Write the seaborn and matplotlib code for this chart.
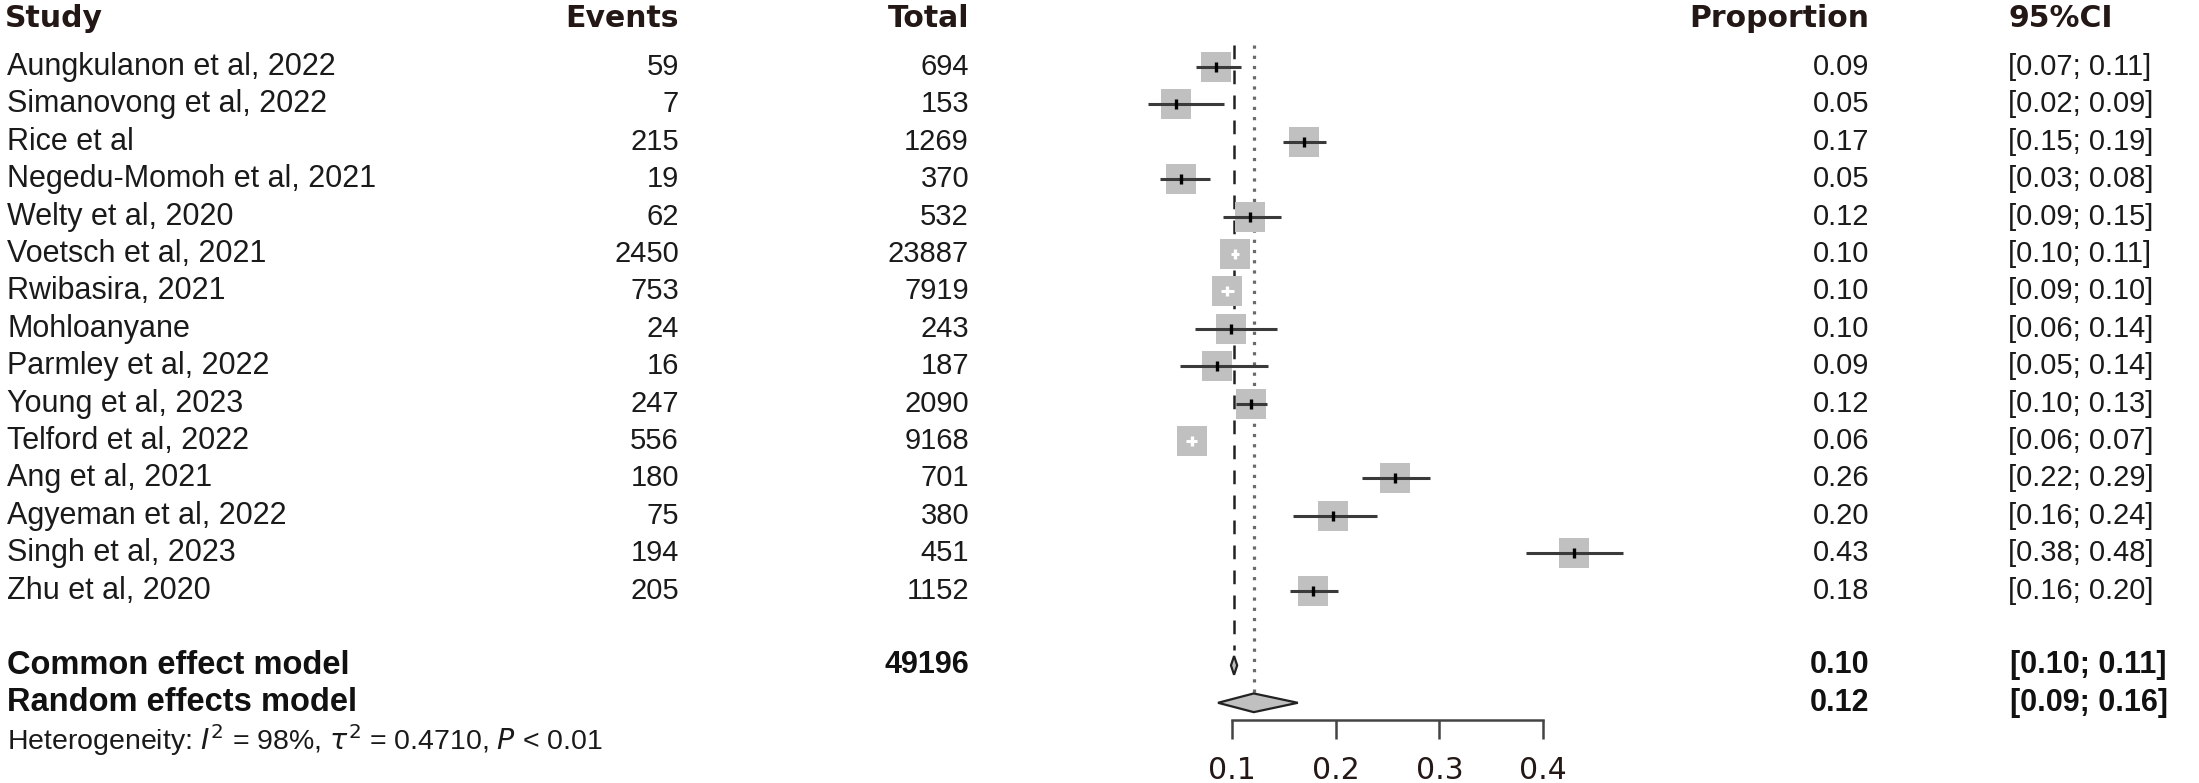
import numpy as np
import pandas as pd
import matplotlib
matplotlib.use("Agg")
import matplotlib.pyplot as plt
import seaborn as sns

# data
studies = ["Aungkulanon et al, 2022", "Simanovong et al, 2022", "Rice et al",
           "Negedu-Momoh et al, 2021", "Welty et al, 2020", "Voetsch et al, 2021",
           "Rwibasira, 2021", "Mohloanyane", "Parmley et al, 2022", "Young et al, 2023",
           "Telford et al, 2022", "Ang et al, 2021", "Agyeman et al, 2022",
           "Singh et al, 2023", "Zhu et al, 2020"]
events = [59, 7, 215, 19, 62, 2450, 753, 24, 16, 247, 556, 180, 75, 194, 205]
totals = [694, 153, 1269, 370, 532, 23887, 7919, 243, 187, 2090, 9168, 701, 380, 451, 1152]
prop = [0.085, 0.046, 0.169, 0.051, 0.117, 0.103, 0.095, 0.099, 0.086, 0.118,
        0.061, 0.257, 0.197, 0.430, 0.178]
ci_lo = [0.065, 0.019, 0.149, 0.031, 0.091, 0.099, 0.089, 0.064, 0.050, 0.104,
         0.056, 0.225, 0.159, 0.384, 0.156]
ci_hi = [0.109, 0.092, 0.191, 0.079, 0.147, 0.107, 0.102, 0.143, 0.135, 0.134,
         0.066, 0.291, 0.240, 0.477, 0.202]
prop_txt = ["0.09", "0.05", "0.17", "0.05", "0.12", "0.10", "0.10", "0.10", "0.09",
            "0.12", "0.06", "0.26", "0.20", "0.43", "0.18"]
ci_txt = ["[0.07; 0.11]", "[0.02; 0.09]", "[0.15; 0.19]", "[0.03; 0.08]", "[0.09; 0.15]",
          "[0.10; 0.11]", "[0.09; 0.10]", "[0.06; 0.14]", "[0.05; 0.14]", "[0.10; 0.13]",
          "[0.06; 0.07]", "[0.22; 0.29]", "[0.16; 0.24]", "[0.38; 0.48]", "[0.16; 0.20]"]

models = ["Common effect model", "Random effects model"]
model_est = [0.102, 0.121]
model_lo = [0.099, 0.0865]
model_hi = [0.105, 0.1635]
model_prop_txt = ["0.10", "0.12"]
model_ci_txt = ["[0.10; 0.11]", "[0.09; 0.16]"]
total_n = "49196"
het_txt = r"Heterogeneity: $I^2$ = 98%, $\tau^2$ = 0.4710, $P$ < 0.01"
xticks = [0.1, 0.2, 0.3, 0.4]

df = pd.DataFrame({"study": studies, "events": events, "total": totals,
                   "prop": prop, "lo": ci_lo, "hi": ci_hi, "row": np.arange(len(studies))})
common_row, random_row, het_row = len(studies) + 1, len(studies) + 2, len(studies) + 3

W, H = 2199, 783
dark = "#231815"
sns.set_style("white")
plt.rcParams["font.family"] = ["Liberation Sans", "DejaVu Sans"]

fig = plt.figure(figsize=(W / 100, H / 100), dpi=100)
ylim = ((720 - 67) / 37.4, (0 - 67) / 37.4)

# text columns
tx = fig.add_axes([0, 63 / H, 1, 720 / H])
tx.set_xlim(0, W)
tx.set_ylim(*ylim)
tx.axis("off")

hdr = dict(fontsize=21.5, fontweight="bold", family="DejaVu Sans", color=dark, va="center")
hrow = -1.3
tx.text(5, hrow, "Study", ha="left", **hdr)
tx.text(679, hrow, "Events", ha="right", **hdr)
tx.text(969, hrow, "Total", ha="right", **hdr)
tx.text(1869, hrow, "Proportion", ha="right", **hdr)
tx.text(2008, hrow, "95%CI", ha="left", **hdr)

body = dict(fontsize=21, color="#1a1a1a", va="center")
for i, r in df.iterrows():
    tx.text(7, r["row"], r["study"], ha="left", fontsize=22, color="#1a1a1a", va="center")
    tx.text(679, r["row"], str(r["events"]), ha="right", **body)
    tx.text(969, r["row"], str(r["total"]), ha="right", **body)
    tx.text(1869, r["row"], prop_txt[i], ha="right", **body)
    tx.text(2008, r["row"], ci_txt[i], ha="left", **body)

bold = dict(fontweight="bold", color="#111111", va="center")
for k, row in enumerate([common_row, random_row]):
    tx.text(7, row, models[k], ha="left", fontsize=23.5, **bold)
    tx.text(1869, row, model_prop_txt[k], ha="right", fontsize=22, **bold)
    tx.text(2010, row, model_ci_txt[k], ha="left", fontsize=22, **bold)
tx.text(969, common_row, total_n, ha="right", fontsize=22, **bold)
tx.text(7, het_row, het_txt, ha="left", va="center", fontsize=20.5, color="#1a1a1a")

# forest panel
ax = fig.add_axes([1232 / W, 63 / H, 311 / W, 720 / H])
ax.set_facecolor("none")
ax.set_xlim(0.1, 0.4)
ax.set_ylim(*ylim)

box_w = 29 / (311 / 0.3)
sns.scatterplot(data=df, x="prop", y="row", marker="s", s=440, color="#c0c0c0",
                linewidth=0, ax=ax, zorder=2, legend=False)
inside = (df["hi"] - df["lo"]) < box_w
line_col = np.where(inside, "white", "#3a3a3a")
ax.hlines(df["row"], df["lo"], df["hi"], colors=line_col, lw=2.2, zorder=3)
ax.scatter(df["prop"], df["row"], marker="|", s=50, c=list(np.where(inside, "white", "black")),
           linewidths=2.4, zorder=4)

# reference lines for the pooled estimates
ax.vlines(model_est[0], -0.6, common_row - 0.4, colors="#222222", lw=1.8,
          linestyles=(0, (5.5, 4.5)), zorder=1)
ax.vlines(model_est[1], -0.6, random_row - 0.25, colors="#6a6a6a", lw=2.3,
          linestyles=(0, (1.0, 2.2)), zorder=1)

for k, row in enumerate([common_row, random_row]):
    dx = [model_lo[k], model_est[k], model_hi[k], model_est[k]]
    dy = [row, row - 0.25, row, row + 0.25]
    ax.fill(dx, dy, facecolor="#c0c0c0", edgecolor="#222222", lw=1.6, zorder=3)

for c in ax.get_children():
    try:
        c.set_clip_on(False)
    except Exception:
        pass

sns.despine(ax=ax, left=True, top=True, right=True)
ax.spines["bottom"].set_bounds(0.1, 0.4)
ax.spines["bottom"].set_color("#444444")
ax.spines["bottom"].set_linewidth(1.8)
ax.set_yticks([])
ax.set_xticks(xticks)
ax.set_xticklabels([f"{v:.1f}" for v in xticks], family="DejaVu Sans", fontsize=21.5, color=dark)
ax.tick_params(axis="x", direction="out", length=13.7, width=1.8, color="#444444", pad=12)
ax.tick_params(axis="x", bottom=True)
ax.set_xlabel("")
ax.set_ylabel("")

fig.savefig("out.png", dpi=100)
